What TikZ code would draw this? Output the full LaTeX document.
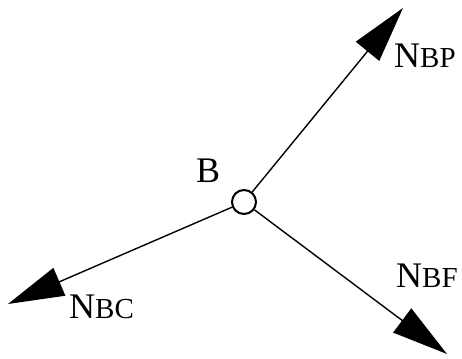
\documentclass[tikz,border=0pt]{standalone}
\usepackage{fontspec}
\setmainfont{Liberation Serif}
\usetikzlibrary{arrows.meta}
\newcommand{\lbl}[2]{#1{\fontsize{29}{30}\selectfont #2}}
\tikzset{
  force/.style={line width=1.4pt,-{Triangle[length=56pt,width=30pt]}},
  joint/.style={circle,draw,line width=2pt,minimum size=24pt,inner sep=0pt,fill=white},
  lab/.style={inner sep=0pt,anchor=base west,font=\fontsize{36}{40}\selectfont}
}
\begin{document}
\begin{tikzpicture}[x=1pt,y=-1pt]
\useasboundingbox (0,0) rectangle (462,358);
\node[joint] (B) at (244,202) {};
\coordinate (tp) at (403,8);
\coordinate (tc) at (8,304);
\coordinate (tf) at (447,354);
\draw[force] (B) -- (tp);
\draw[force] (B) -- (tc);
\draw[force] (B) -- (tf);
\node[lab] (lB) at (196,182) {B};
\node[lab] (lP) at (394,68) {\lbl{N}{BP}};
\node[lab] (lC) at (69,318) {\lbl{N}{BC}};
\node[lab] (lF) at (396,287) {\lbl{N}{BF}};
\end{tikzpicture}
\end{document}
